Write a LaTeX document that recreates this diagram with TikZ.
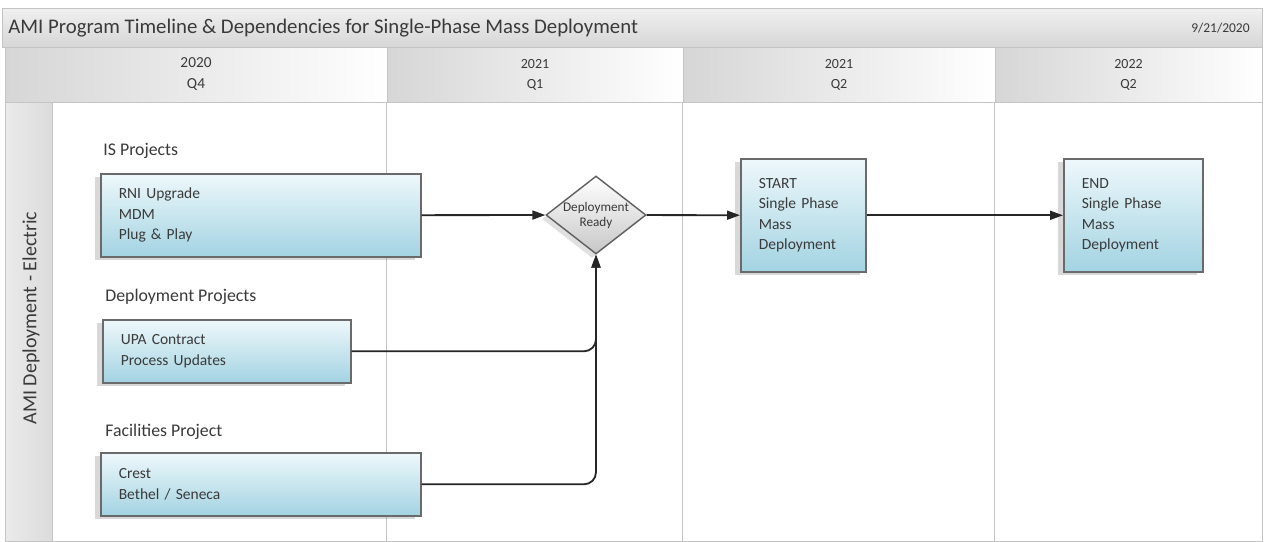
\documentclass[tikz,border=0pt]{standalone}
\usepackage{fontspec}
\setmainfont{Carlito}
\usetikzlibrary{arrows.meta, positioning, calc, shapes.geometric, shadows}

\definecolor{boxtop}{HTML}{EEF8FB}
\definecolor{boxbot}{HTML}{A3D3E2}
\definecolor{boxline}{HTML}{6A6A6A}
\definecolor{gridline}{HTML}{C4C4C4}
\definecolor{headgray}{HTML}{D6D6D6}
\definecolor{txtgray}{HTML}{3A3A3A}

\begin{document}
\begin{tikzpicture}[x=1pt, y=-1pt, thick, >={Triangle[length=13pt, width=9pt]}]

		% Define block styles
		\tikzstyle{projbox} = [rectangle, draw=boxline, line width=1.6pt, top color=boxtop, bottom color=boxbot, anchor=north west, inner xsep=18pt, inner ysep=0pt, align=left, text=txtgray, font=\fontsize{15.5}{20.5}\selectfont, drop shadow={shadow xshift=-6pt, shadow yshift=-3pt, opacity=0.25, fill=black!60}]
		\tikzstyle{decision} = [diamond, draw=boxline!90!black, line width=1.4pt, top color=white, bottom color=black!22, aspect=1.28, inner sep=0pt, minimum width=100pt, minimum height=78pt, align=center, text=txtgray, font=\fontsize{13.2}{15}\selectfont, drop shadow={shadow xshift=-4pt, shadow yshift=-4pt, opacity=0.2, fill=black!60}]
		\tikzstyle{colhead} = [rectangle, draw=gridline, line width=0.8pt, left color=headgray, right color=white, minimum height=55pt, inner sep=0pt, align=center, text=txtgray, font=\fontsize{14}{20}\selectfont]
		\tikzstyle{grouplabel} = [anchor=west, inner sep=0pt, text=txtgray, font=\fontsize{17.8}{20}\selectfont]
		\tikzstyle{flow} = [->, line width=1.8pt, black!85]

		% Frame
		\useasboundingbox (0,0) rectangle (1265,541);
		\fill[white] (0,0) rectangle (1265,541);
		\node[rectangle, draw=gridline, line width=0.8pt, top color=black!6, bottom color=black!16, minimum width=1260pt, minimum height=39pt, anchor=north west, inner sep=0pt] (titlebar) at (2,8) {};
		\node[anchor=west, inner sep=0pt, text=txtgray, font=\fontsize{20.8}{24}\selectfont] (title) at (8,28) {AMI Program Timeline \& Dependencies for Single-Phase Mass Deployment};
		\node[anchor=east, inner sep=0pt, text=txtgray, font=\fontsize{13.5}{16}\selectfont] (date) at (1250,28) {9/21/2020};

		% Column headers
		\node[colhead, minimum width=382pt, font=\fontsize{15.3}{21}\selectfont] (q4) at (196,74.5) {2020\\Q4};
		\node[colhead, minimum width=296pt] (q1) at (535,74.5) {2021\\Q1};
		\node[colhead, minimum width=312pt] (q2a) at (839,74.5) {2021\\Q2};
		\node[colhead, minimum width=267pt] (q2b) at (1128.5,74.5) {2022\\Q2};

		% Lane
		\draw[gridline, line width=0.8pt] (5,102) rectangle (1262,541);
		\node[rectangle, draw=gridline, line width=0.8pt, left color=black!8, right color=black!14, minimum width=47pt, minimum height=439pt, anchor=north west, inner sep=0pt] (lane) at (5,102) {};
		\node[rotate=90, text=txtgray, font=\fontsize{20}{24}\selectfont] (lanetitle) at (31,318) {AMI Deployment - Electric};
		\draw[gridline, line width=0.8pt] (q1.south west) -- (q1.south west |- lane.south);
		\draw[gridline, line width=0.8pt] (q2a.south west) -- (q2a.south west |- lane.south);
		\draw[gridline, line width=0.8pt] (q2b.south west) -- (q2b.south west |- lane.south);

		% Nodes
		\node[grouplabel] (islbl) at (103,151) {IS Projects};
		\node[projbox, text width=284pt, minimum height=83pt] (rni) at (100,173) {RNI Upgrade\\MDM\\Plug \& Play};
		\node[grouplabel] (deplbl) at (105,297) {Deployment Projects};
		\node[projbox, text width=212pt, minimum height=63pt] (upa) at (102,319) {UPA Contract\\Process Updates};
		\node[grouplabel] (faclbl) at (105,432) {Facilities Project};
		\node[projbox, text width=284pt, minimum height=63pt] (crest) at (100,452) {Crest\\Bethel / Seneca};
		\node[decision] (ready) at (596,215) {Deployment\\Ready};
		\node[projbox, text width=89pt, minimum height=113pt] (start) at (740,158) {START\\Single Phase\\Mass\\Deployment};
		\node[projbox, text width=103pt, minimum height=113pt] (finish) at (1063,158) {END\\Single Phase\\Mass\\Deployment};

		% Arrows
		\draw[flow] (rni) -- (ready);
		\draw[flow] (ready) -- (start);
		\draw[flow] (start) -- (finish);
		\draw[flow, rounded corners=12pt] (upa.east) -| (ready.south);
		\draw[flow, rounded corners=12pt] (crest.east) -| (ready.south);

\end{tikzpicture}
\end{document}
